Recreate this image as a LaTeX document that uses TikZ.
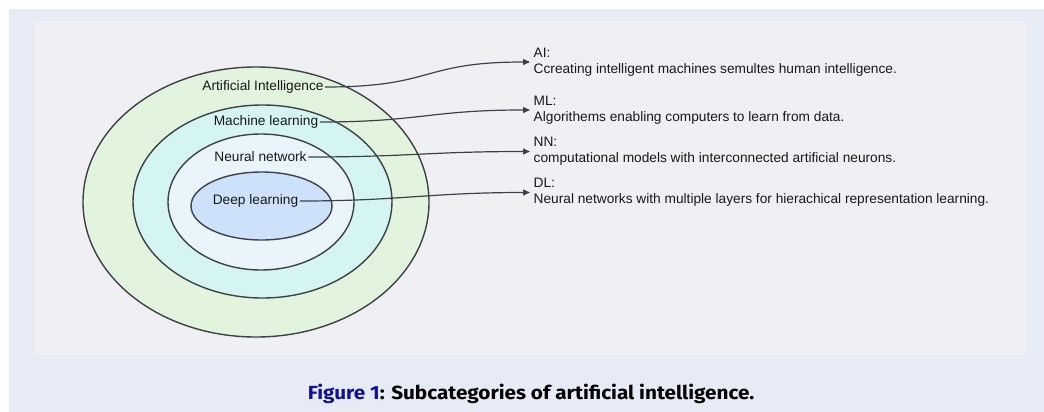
\documentclass[tikz,border=0pt]{standalone}
\usepackage{fontspec}
\setmainfont{Liberation Sans}
\newfontfamily\capfont{Fira Sans}
\usetikzlibrary{arrows.meta}
\definecolor{pageblue}{HTML}{E6EBF6}
\definecolor{panelgray}{HTML}{F0EFF4}
\definecolor{aifill}{HTML}{E2F4DE}
\definecolor{mlfill}{HTML}{D5F5F3}
\definecolor{nnfill}{HTML}{EAF4FB}
\definecolor{dlfill}{HTML}{CDE1FB}
\definecolor{inkline}{HTML}{3C4248}
\definecolor{figblue}{HTML}{10109A}
\begin{document}
\begin{tikzpicture}[x=1pt,y=-1pt,
  ring/.style={draw=inkline,line width=1.4pt},
  ringlabel/.style={inner sep=1.5pt,font=\fontsize{13.7}{16}\selectfont,text=black!90},
  desc/.style={anchor=west,align=left,inner sep=3.5pt,font=\fontsize{13.7}{16}\selectfont,text=black!90},
  link/.style={draw=inkline,line width=1.2pt,-{Triangle[length=7pt,width=6pt]}}]
\useasboundingbox (0,0) rectangle (1044,412);
% page and panel
\fill[white] (0,0) rectangle (1044,412);
\fill[pageblue] (9,9) rectangle (1044,412);
\fill[panelgray] (35,21) rectangle (1027,355);
% nested ellipses
\draw[ring,fill=aifill] (256,202) ellipse [x radius=173,y radius=135];
\draw[ring,fill=mlfill] (262.5,201.5) ellipse [x radius=129.5,y radius=96.5];
\draw[ring,fill=nnfill] (261,202) ellipse [x radius=93,y radius=68];
\draw[ring,fill=dlfill] (261.5,206) ellipse [x radius=70.5,y radius=34];
% labels inside the rings
\node[ringlabel] (ai) at (263,87) {Artificial Intelligence};
\node[ringlabel] (ml) at (266,122) {Machine learning};
\node[ringlabel] (nn) at (260.5,157) {Neural network};
\node[ringlabel] (dl) at (255.5,201) {Deep learning};
% descriptions
\node[desc] (aid) at (530,62) {AI:\\Ccreating intelligent machines semultes human intelligence.};
\node[desc] (mld) at (530,110) {ML:\\Algorithems enabling computers to learn from data.};
\node[desc] (nnd) at (530,151.5) {NN:\\computational models with interconnected artificial neurons.};
\node[desc] (dld) at (530,192.5) {DL:\\Neural networks with multiple layers for hierachical representation learning.};
% connectors
\draw[link] (ai.east) .. controls +(110,0) and +(-110,0) .. (aid.west);
\draw[link] (ml.east) .. controls +(100,0) and +(-100,0) .. (mld.west);
\draw[link] (nn.east) .. controls +(100,0) and +(-100,0) .. (nnd.west);
\draw[link] (dl.east) .. controls +(100,0) and +(-100,0) .. (dld.west);
% caption
\node[font=\capfont\bfseries\fontsize{19}{22}\selectfont,inner sep=0pt,anchor=base] (cap) at (531,399)
  {\scalebox{1.09}[1]{\textcolor{figblue}{Figure 1}: Subcategories of artificial intelligence.}};
\end{tikzpicture}
\end{document}
